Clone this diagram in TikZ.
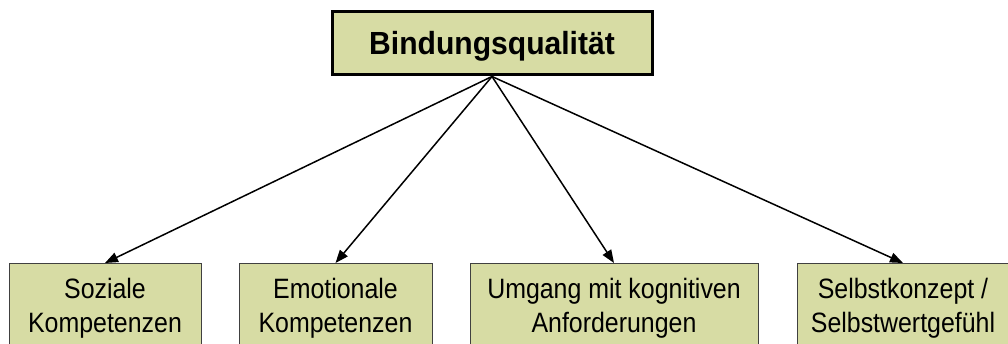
\documentclass[tikz,border=0pt]{standalone}
\usepackage{fontspec}
\setmainfont{Liberation Sans}[FakeStretch=0.89]
\newfontfamily\headfont{Liberation Sans}[FakeStretch=0.94]
\usetikzlibrary{arrows.meta}
\definecolor{boxfill}{RGB}{215,220,164}
\begin{document}
\begin{tikzpicture}[x=1pt,y=-1pt,
  headbox/.style={draw=black, line width=3pt, fill=boxfill,
    minimum width=320pt, minimum height=63pt, inner sep=0pt,
    text height=23pt, text depth=0pt,
    font=\headfont\bfseries\fontsize{32}{38}\selectfont},
  leafbox/.style={draw=black!75, line width=1pt, fill=boxfill,
    anchor=north, minimum height=110pt, inner sep=0pt},
  leaftext/.style={anchor=north, inner sep=0pt, align=center,
    font=\fontsize{28}{34}\selectfont},
  link/.style={line width=1.5pt, -{Triangle[length=13pt,width=10pt]}}
]
\useasboundingbox (0,0) rectangle (1008,344);
\clip (0,0) rectangle (1008,344);

% root
\node[headbox] (head) at (492,43.5) {Bindungsqualität};

% leaf boxes
\node[leafbox, minimum width=192pt] (b1) at (105,263) {};
\node[leafbox, minimum width=193pt] (b2) at (335.5,263) {};
\node[leafbox, minimum width=288pt] (b3) at (614,263) {};
\node[leafbox, minimum width=212pt] (b4) at (903,263) {};

% leaf labels
\node[leaftext] (t1) at (105,277.6) {Soziale\\Kompetenzen};
\node[leaftext] (t2) at (335.5,277.6) {Emotionale\\Kompetenzen};
\node[leaftext] (t3) at (614,277.6) {Umgang mit kognitiven\\Anforderungen};
\node[leaftext] (t4) at (903,277.6) {Selbstkonzept /\\Selbstwertgefühl};

% connectors
\draw[link] (head.south) -- (b1.north);
\draw[link] (head.south) -- (b2.north);
\draw[link] (head.south) -- (b3.north);
\draw[link] (head.south) -- (b4.north);
\end{tikzpicture}
\end{document}
